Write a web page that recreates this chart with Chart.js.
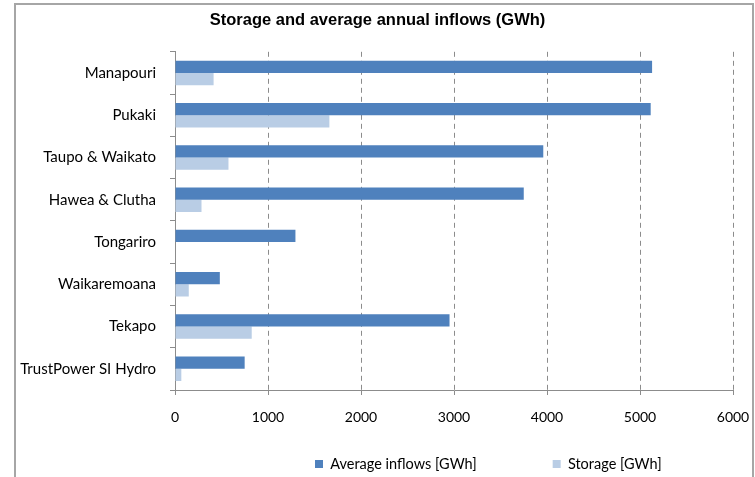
<!DOCTYPE html>
<html>
<head>
<meta charset="utf-8">
<script src="https://cdn.jsdelivr.net/npm/chart.js@4.4.1/dist/chart.umd.min.js"></script>
<style>
  html, body { margin: 0; padding: 0; background: #fff; }
  #wrap { position: relative; width: 755px; height: 477px; overflow: hidden; }
  #frame { position: absolute; left: 14px; top: 3px; width: 740px; height: 520px;
           border: 2px solid #a6a6a6; box-sizing: border-box; }
  #Embalses { position: absolute; left: 0; top: 0; }
</style>
</head>
<body>
<div id="wrap">
  <div id="frame"></div>
  <canvas id="Embalses" width="755" height="477"></canvas>
</div>
<script>
var centrales = ['Manapouri', 'Pukaki', 'Taupo & Waikato', 'Hawea & Clutha',
                 'Tongariro', 'Waikaremoana', 'Tekapo', 'TrustPower SI Hydro'];
var aportes = [5130, 5115, 3960, 3750, 1295, 482, 2952, 749];
var almacenamiento = [415, 1660, 575, 285, 0, 148, 825, 68];
var marcas = [0, 1000, 2000, 3000, 4000, 5000, 6000];

var fuente = "Lato, 'Open Sans', sans-serif";
var sepLeyenda = 76;

// mueve la leyenda a donde la pone Excel
var moverLeyenda = {
    id: 'moverLeyenda',
    afterLayout: function(c) {
        var l = c.legend;
        l.left = 315 - sepLeyenda;
        l.right = 755;
        l.top = 464 - 7.25 - sepLeyenda;
    }
};

var chart = new Chart(document.getElementById('Embalses'), {
    type: 'bar',
    data: {
        labels: centrales,
        datasets: [{
            label: 'Average inflows [GWh]',
            data: aportes,
            backgroundColor: '#4f81bd',
            borderWidth: 0
        }, {
            label: 'Storage [GWh]',
            data: almacenamiento,
            backgroundColor: '#b9cde5',
            borderWidth: 0
        }]
    },
    plugins: [moverLeyenda],
    options: {
        indexAxis: 'y',
        responsive: false,
        animation: false,
        categoryPercentage: 0.58,
        barPercentage: 1.0,
        layout: { padding: 0 },
        scales: {
            x: {
                min: 0,
                max: 6000,
                afterBuildTicks: function(scale) {
                    scale.ticks = marcas.map(function(v) { return { value: v }; });
                },
                afterFit: function(scale) {
                    scale.height = 59;
                    scale.paddingLeft = 0;
                    scale.paddingRight = 22;
                },
                grid: {
                    color: '#8c8c8c',
                    tickLength: 5,
                    tickBorderDash: [],
                    tickColor: '#8c8c8c'
                },
                border: { color: '#8c8c8c', dash: [5, 4] },
                ticks: {
                    color: '#000',
                    font: { family: fuente, size: 14 },
                    padding: 14,
                    maxRotation: 0,
                    callback: function(v) { return String(v); }
                }
            },
            y: {
                afterFit: function(scale) { scale.width = 175; },
                grid: {
                    drawOnChartArea: false,
                    color: '#8c8c8c',
                    tickLength: 5
                },
                border: { color: '#8c8c8c' },
                ticks: {
                    color: '#000',
                    font: { family: fuente, size: 15 },
                    padding: 14
                }
            }
        },
        plugins: {
            title: {
                display: true,
                text: 'Storage and average annual inflows (GWh)',
                color: '#000',
                font: { family: "'Liberation Sans Narrow', 'Liberation Sans', sans-serif", size: 16.5, weight: 'bold' },
                padding: { top: 11, bottom: 21 }
            },
            legend: {
                position: 'bottom',
                align: 'start',
                maxHeight: 28,
                labels: {
                    color: '#000',
                    boxWidth: 8,
                    boxHeight: 8,
                    padding: sepLeyenda,
                    font: { family: fuente, size: 14.5 },
                    generateLabels: function(c) {
                        var items = Chart.defaults.plugins.legend.labels.generateLabels(c);
                        items.forEach(function(it) { it.lineWidth = 0; });
                        return items;
                    }
                }
            },
            tooltip: { enabled: false }
        }
    }
});
</script>
</body>
</html>
